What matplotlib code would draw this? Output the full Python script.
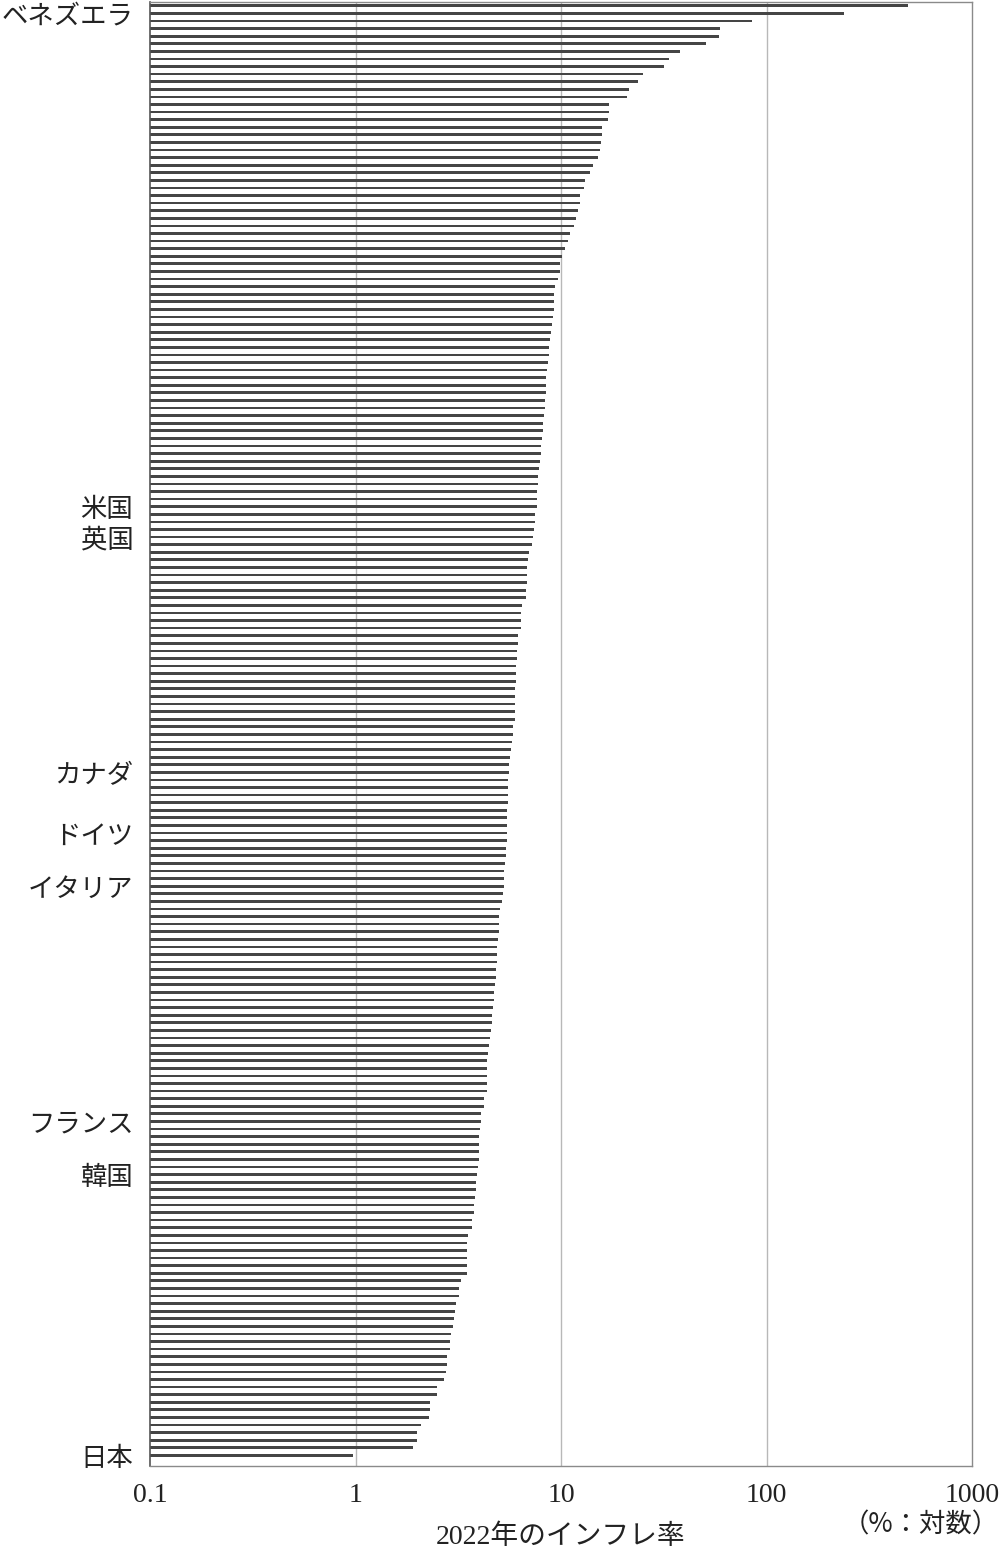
import matplotlib
matplotlib.use('Agg')
import matplotlib.pyplot as plt
import matplotlib.ticker as mticker
import numpy as np

plt.rcParams['font.family'] = ['Noto Sans CJK JP', 'DejaVu Sans']

# 2022 inflation (%), sorted high -> low
inflation = [
    489, 239, 84.8, 59.2, 58.7, 50.8, 38.1, 33.7, 31.7, 25.1,
    23.6, 21.4, 21.0, 17.2, 17.1, 17.0, 15.9, 15.8, 15.7, 15.4,
    15.2, 14.3, 13.9, 13.1, 13.0, 12.4, 12.4, 12.1, 11.8, 11.6,
    11.0, 10.8, 10.5, 10.1, 9.87, 9.87, 9.69, 9.3, 9.25, 9.25,
    9.2, 9.14, 9.0, 8.95, 8.88, 8.74, 8.7, 8.6, 8.53, 8.47,
    8.47, 8.43, 8.4, 8.34, 8.3, 8.2, 8.17, 8.07, 8.0,
    7.98, 7.94, 7.85, 7.76, 7.7, 7.66, 7.64, 7.6, 7.51, 7.49,
    7.39, 7.28, 7.22, 6.96, 6.88, 6.85, 6.83, 6.8, 6.75,
    6.73, 6.48, 6.4, 6.38, 6.36, 6.15, 6.15, 6.1, 6.08, 6.07,
    6.04, 6.04, 5.99, 5.99, 5.97, 5.97, 5.95, 5.84, 5.84,
    5.75, 5.73, 5.63, 5.61, 5.6, 5.52, 5.52, 5.5, 5.5, 5.48,
    5.48, 5.46, 5.46, 5.43, 5.41, 5.39, 5.33, 5.3, 5.3,
    5.3, 5.2, 5.17, 5.04, 5.02, 5.0, 4.98, 4.92, 4.9, 4.88,
    4.86, 4.84, 4.83, 4.75, 4.73, 4.7, 4.65, 4.62, 4.6,
    4.56, 4.51, 4.47, 4.42, 4.38, 4.38, 4.38, 4.38, 4.38, 4.24,
    4.22, 4.09, 4.06, 4.02, 4.0, 4.0, 3.99, 3.98, 3.94,
    3.92, 3.87, 3.86, 3.81, 3.79, 3.76, 3.7, 3.67, 3.52, 3.5,
    3.49, 3.49, 3.49, 3.49, 3.27, 3.2, 3.19, 3.09, 3.06,
    3.02, 2.98, 2.9, 2.88, 2.87, 2.8, 2.79, 2.77, 2.7, 2.49,
    2.49, 2.31, 2.3, 2.29, 2.09, 2.0, 2.0, 1.9, 0.97,
]

# only a few countries are named on the chart (rank -> name)
named = {
    1: 'ベネズエラ',
    66: '米国',
    70: '英国',
    101: 'カナダ',
    109: 'ドイツ',
    116: 'イタリア',
    147: 'フランス',
    154: '韓国',
    191: '日本',
}

xticks = [0.1, 1, 10, 100, 1000]
xtick_labels = ['0.1', '1', '10', '100', '1000']

vals = np.array(inflation)
ypos = np.arange(len(vals))
base = 0.1

fig = plt.figure(figsize=(10, 15.5), dpi=100)
ax = fig.add_axes([0.150, 1 - 1466 / 1550, 0.822, (1466 - 2) / 1550])

ax.barh(ypos, vals - base, left=base, height=0.36, color='#454545', zorder=2)

ax.set_xscale('log')
ax.set_xlim(0.1, 1000)
ax.set_ylim(len(vals) + 0.4, -0.5)

ax.set_xticks(xticks)
ax.set_xticklabels(xtick_labels, family=['Liberation Serif', 'Noto Sans CJK JP'],
                   fontsize=20, color='#222222')
ax.xaxis.set_minor_locator(mticker.NullLocator())
ax.tick_params(axis='x', length=0, pad=12)

ax.set_yticks(list(named.keys()))
ax.set_yticklabels(list(named.values()), fontsize=19, color='#222222')
ax.tick_params(axis='y', length=0, pad=12)

for g in [1, 10, 100]:
    ax.axvline(g, color='#b8b8b8', lw=1.0, zorder=1)

for side in ['top', 'right', 'bottom']:
    ax.spines[side].set_color('#8a8a8a')
    ax.spines[side].set_linewidth(1.0)
ax.spines['left'].set_color('#555555')
ax.spines['left'].set_linewidth(1.2)

fig.text(0.561, 1 - 1537 / 1550, '2022年のインフレ率', ha='center', va='center',
         fontsize=20, color='#222222', family=['Liberation Serif', 'Noto Sans CJK JP'])
fig.text(0.999, 1 - 1525 / 1550, '（%：対数）', ha='right', va='center',
         fontsize=19, color='#222222')

fig.savefig('out.png', dpi=100)
